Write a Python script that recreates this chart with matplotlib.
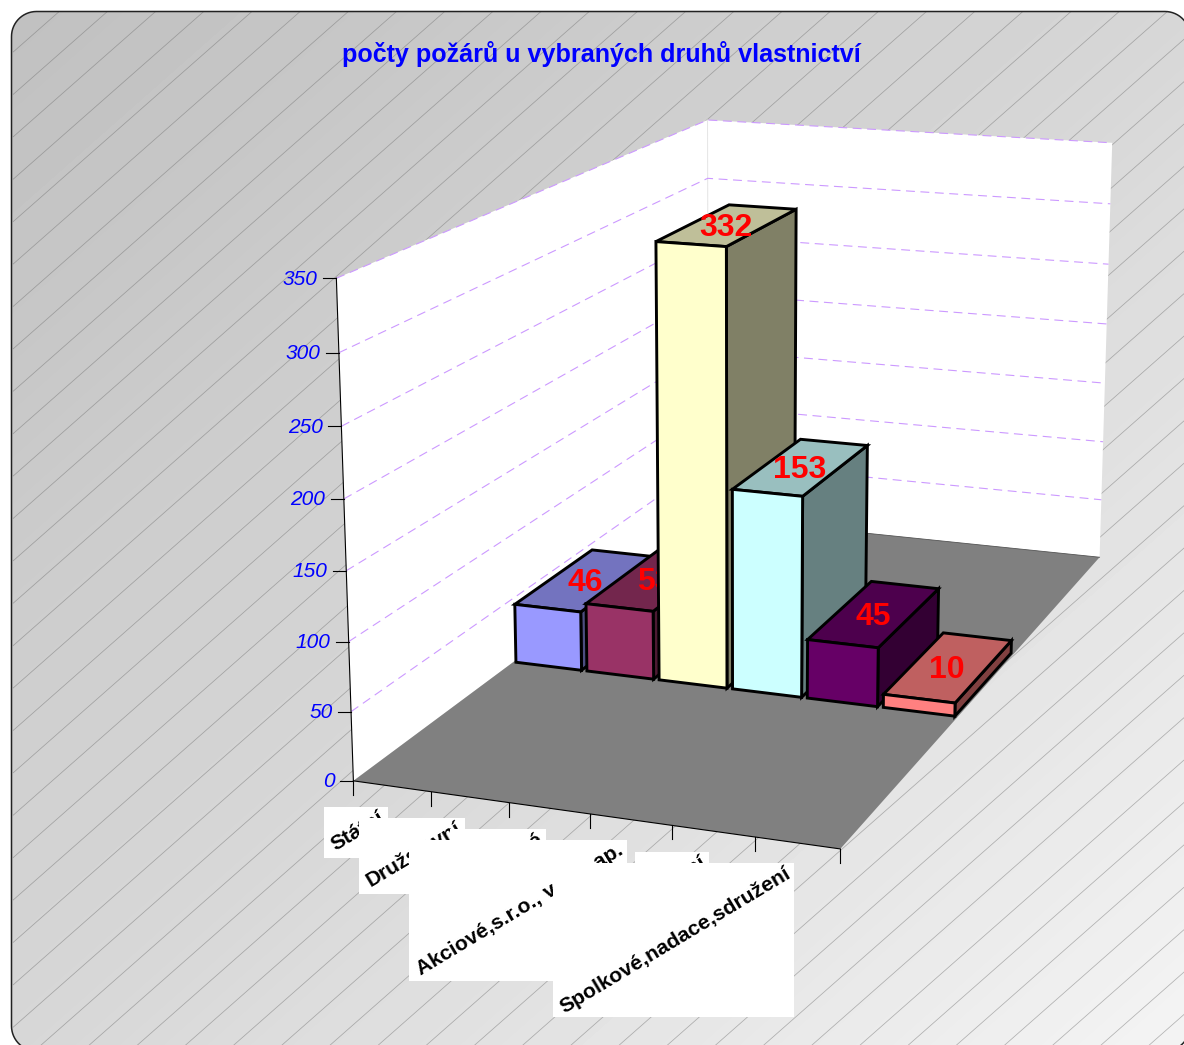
import numpy as np
import matplotlib
matplotlib.use("Agg")
import matplotlib.pyplot as plt
from matplotlib.patches import Rectangle, Polygon
from matplotlib.collections import LineCollection

# ---- data ----
categories = ["Státní", "Družstevní", "Soukromé", "Akciové,s.r.o., v.o.s.,ap.", "Ostatní", "Spolkové,nadace,sdružení"]
values = [46, 53, 332, 153, 45, 10]
bar_colors = ["#9999FF", "#993366", "#FFFFCC", "#CCFFFF", "#660066", "#FF8080"]
z_ticks = [0, 50, 100, 150, 200, 250, 300, 350]
title = "počty požárů u vybraných druhů vlastnictví"

W, H = 1184, 1045
BAR_X0, BAR_X1 = 0.035, 0.96
BAR_Y0, BAR_Y1 = 0.39, 0.61
# label boxes: left, top, right, bottom in pixels
label_boxes = [(324, 807, 388, 858), (359, 818, 465, 894), (450, 829, 546, 930),
               (409, 840, 627, 981), (635, 852, 709, 930), (553, 863, 794, 1017)]

# ---- camera calibrated on the plot box corners ----
world = np.array([[0,0,0],[6,0,0],[6,1,0],[0,1,0],[0,0,350],[0,1,350],[6,1,350]], float)
image = np.array([[354,781],[840,849],[1100,557],[708,517],[336,278],[708,120],[1112,143]], float)
rows = []
for (X, Y, Z), (u, v) in zip(world, image):
    rows.append([X, Y, Z, 1, 0, 0, 0, 0, -u*X, -u*Y, -u*Z, -u])
    rows.append([0, 0, 0, 0, X, Y, Z, 1, -v*X, -v*Y, -v*Z, -v])
P = np.linalg.svd(np.array(rows))[2][-1].reshape(3, 4)

def proj(x, y, z):
    q = P @ np.array([x, y, z, 1.0])
    return q[0] / q[2], q[1] / q[2]

def face(pts, **kw):
    ax.add_patch(Polygon([proj(*p) for p in pts], closed=True, **kw))

def shade(c, f):
    r = matplotlib.colors.to_rgb(c)
    return tuple(v * f for v in r)

def round_rect(l, t, r, b, rad):
    pts = []
    for cx, cy, a0 in [(l + rad, t + rad, 180), (r - rad, t + rad, 270), (r - rad, b - rad, 0), (l + rad, b - rad, 90)]:
        for a in np.radians(np.linspace(a0, a0 + 90, 16)):
            pts.append((cx + rad * np.cos(a), cy + rad * np.sin(a)))
    return pts

plt.rcParams["font.family"] = ["Liberation Sans", "DejaVu Sans"]
fig = plt.figure(figsize=(W / 100, H / 100), dpi=100, facecolor="white")
ax = fig.add_axes([0, 0, 1, 1])
ax.set_xlim(0, W); ax.set_ylim(H, 0); ax.axis("off")

# background
panel = Polygon(round_rect(11.5, 11.5, 1190, 1051, 25), closed=True, fc="none", ec="#222222", lw=1.1, zorder=3)
ax.add_patch(panel)
xx, yy = np.meshgrid(np.arange(W), np.arange(H))
t = xx / W + yy / H
grad = 192 + 19 * t + 3.5 * t ** 2
im = ax.imshow(grad, cmap="gray", vmin=0, vmax=255, extent=(0, W, H, 0), aspect="auto", zorder=1)
im.set_clip_path(panel)
segs = []
for k in range(-24, 40):
    c = 996.4 + 42.4 * k
    segs.append([(13, c - 13 * 0.88), (1300, c - 1300 * 0.88)])
hatch = LineCollection(segs, colors="#707070", linewidths=0.55, alpha=0.5, zorder=2)
ax.add_collection(hatch)
hatch.set_clip_path(panel)
ax.set_xlim(0, W); ax.set_ylim(H, 0)

# walls and floor
face([(0,0,0),(0,1,0),(0,1,350),(0,0,350)], fc="white", ec="none", zorder=4)
face([(0,1,0),(6,1,0),(6,1,350),(0,1,350)], fc="white", ec="none", zorder=4)
face([(0,0,0),(6,0,0),(6,1,0),(0,1,0)], fc="#808080", ec="none", zorder=5)
ax.plot(*zip(proj(0,1,0), proj(0,1,350)), color="#e6e6e6", lw=0.7, zorder=4.5)
ax.plot(*zip(proj(0,1,0), proj(6,1,0)), color="#555555", lw=0.6, zorder=5.1)
for z in z_ticks[1:]:
    pts = [proj(0,0,z), proj(0,1,z), proj(6,1,z)]
    ax.plot(*zip(*pts), color="#CC99FF", lw=0.8, ls=(0, (8, 5)), zorder=4.6)

# axes
ax.plot(*zip(proj(0,0,0), proj(0,0,350)), color="black", lw=0.8, zorder=6)
ax.plot(*zip(proj(0,0,0), proj(6,0,0)), color="black", lw=0.8, zorder=6)
for z in z_ticks:
    px, py = proj(0, 0, z)
    ax.plot([px - 13, px], [py, py], color="black", lw=0.8, zorder=6)
    ax.text(px - 18.5, py + 1, str(z), color="#0000FF", style="italic", fontsize=15,
            ha="right", va="center", zorder=6)
for i in range(7):
    px, py = proj(i, 0, 0)
    ax.plot([px, px], [py, py + 14], color="black", lw=0.8, zorder=6)

# category labels
for i, (name, box) in enumerate(zip(categories, label_boxes)):
    l, tp, r, b = box
    ax.add_patch(Rectangle((l, tp), r - l, b - tp, fc="white", ec="none", zorder=7 + i * 0.1))
    ax.text(r - 10, tp + 1, name, fontsize=15.2, fontweight="bold", color="black", rotation=31,
            rotation_mode="anchor", ha="right", va="top", zorder=7.05 + i * 0.1)

# bars
for i, (v, c) in enumerate(zip(values, bar_colors)):
    zo = 10 + i
    x0, x1 = i + BAR_X0, i + BAR_X1
    y0, y1 = BAR_Y0, BAR_Y1
    edge = dict(ec="black", lw=2.1, joinstyle="miter", zorder=zo)
    face([(x1,y0,0),(x1,y1,0),(x1,y1,v),(x1,y0,v)], fc=shade(c, 0.5), **edge)
    face([(x0,y0,v),(x1,y0,v),(x1,y1,v),(x0,y1,v)], fc=shade(c, 0.75), **edge)
    face([(x0,y0,0),(x1,y0,0),(x1,y0,v),(x0,y0,v)], fc=c, **edge)
    px, py = proj(i + 0.5, 0.5, v)
    ax.text(px - 2, py + 3, str(v), color="#FF0000", fontweight="bold", fontsize=23, ha="center",
            va="center", zorder=zo + 0.5)

ax.text(601, 54, title, color="#0000FF", fontweight="bold", fontsize=18.05, ha="center", va="center", zorder=6)
fig.savefig("out.png", dpi=100)
